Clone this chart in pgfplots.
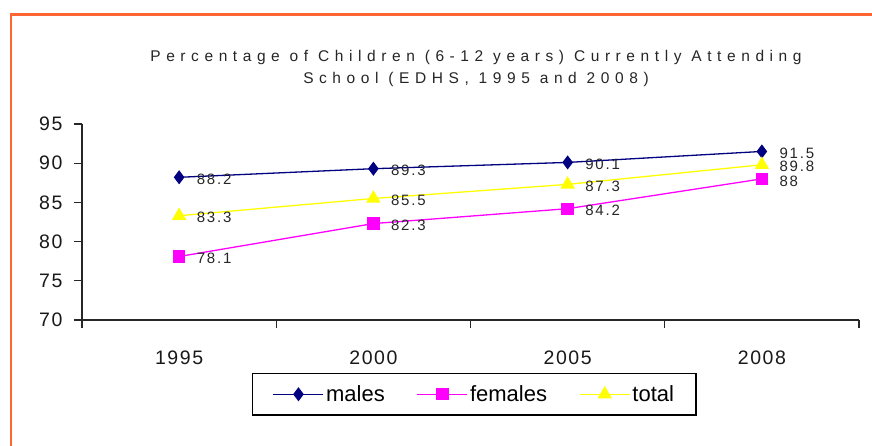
\documentclass[border=0pt]{standalone}
\usepackage{pgfplots}
\pgfplotsset{compat=1.18}
\usepackage{fontspec}
\setmainfont{Liberation Sans}
\newfontfamily\tickfamily[LetterSpace=8]{Liberation Sans}
\newfontfamily\titlefamily[LetterSpace=36]{Liberation Sans}
\newfontfamily\labfamily[LetterSpace=12]{Liberation Sans}
\definecolor{frameorange}{RGB}{255,102,51}
\definecolor{navyc}{RGB}{0,0,128}
\definecolor{magc}{RGB}{255,0,255}
\definecolor{yelc}{RGB}{255,255,0}
\begin{document}
\begin{tikzpicture}[x=1pt,y=1pt]
\useasboundingbox (0,0) rectangle (872,445);
\fill[white] (0,0) rectangle (872,445);
\draw[frameorange, line width=2.5pt] (11,-5) -- (11,430.7) -- (880,430.7);
\node[align=center, font=\titlefamily\fontsize{15.5}{22}\selectfont, text=black!85] at (476,377) {Percentage of Children (6-12 years) Currently Attending\\School (EDHS, 1995 and 2008)};
\begin{axis}[
  at={(82pt,125pt)}, anchor=south west,
  scale only axis, width=777pt, height=196pt,
  xmin=-0.5, xmax=3.5, ymin=70, ymax=95,
  axis x line=bottom, axis y line=left,
  axis line style={-, line width=1.2pt, black!85},
  ytick={70,75,...,95},
  xtick={-0.5,0.5,1.5,2.5,3.5},
  xticklabels={1995,2000,2005,2008},
  x tick label as interval,
  tick align=outside, major tick length=8pt,
  tick style={line width=1.2pt, black!85},
  tick label style={font=\tickfamily\fontsize{19.5}{21}\selectfont, text=black!90},
  x tick label style={yshift=-19pt},
  y tick label style={xshift=-8pt},
  /pgf/number format/assume math mode=true,
  clip=false,
  point meta=explicit symbolic,
  nodes near coords=\pgfplotspointmeta,
  every node near coord/.append style={anchor=west, xshift=17pt, yshift=-2pt, font=\labfamily\fontsize{15}{16}\selectfont, text=black!85, inner sep=0pt},
  legend style={at={(0.505,-0.27)}, anchor=north, legend columns=3, draw=black, line width=1.2pt, font=\fontsize{22}{24}\selectfont, inner xsep=20pt, inner ysep=10pt, /tikz/every even column/.append style={column sep=30pt}},
  legend cell align=left,
  legend image code/.code={\draw[mark repeat=2,mark phase=2,#1] plot coordinates {(0pt,0pt) (25pt,0pt) (50pt,0pt)};},
]
\addplot[navyc, line width=1.3pt, mark=diamond*, mark size=6pt, mark options={fill=navyc, solid}] coordinates {(0,88.2)[88.2] (1,89.3)[89.3] (2,90.1)[90.1] (3,91.5)[91.5]};
\addlegendentry{males}
\addplot[magc, line width=1.3pt, mark=square*, mark size=5.5pt, mark options={fill=magc, solid}] coordinates {(0,78.1)[78.1] (1,82.3)[82.3] (2,84.2)[84.2] (3,88)[88]};
\addlegendentry{females}
\addplot[yelc, line width=1.3pt, mark=triangle*, mark size=7pt, mark options={fill=yelc, solid}] coordinates {(0,83.3)[83.3] (1,85.5)[85.5] (2,87.3)[87.3] (3,89.8)[89.8]};
\addlegendentry{total}
\end{axis}
\end{tikzpicture}
\end{document}
